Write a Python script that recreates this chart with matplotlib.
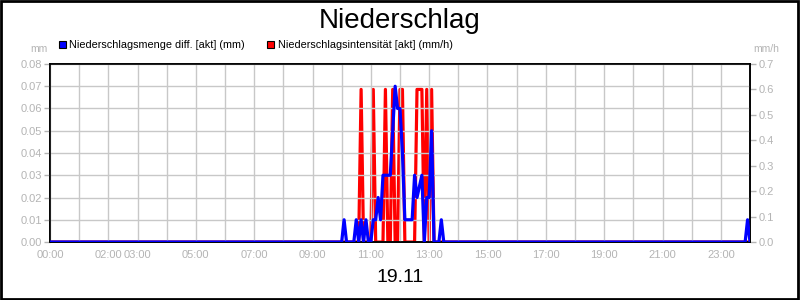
import numpy as np
import matplotlib
matplotlib.use("Agg")
import matplotlib.pyplot as plt
from matplotlib.patches import Rectangle

plt.rcParams['font.family'] = ['Liberation Sans', 'DejaVu Sans']

# 5-minute samples over the day, only non-zero values listed
blue_times = ["10:05", "10:30", "10:40", "10:50", "11:05", "11:10", "11:15", "11:20",
              "11:25", "11:30", "11:35", "11:40", "11:45", "11:50", "11:55", "12:00",
              "12:05", "12:10", "12:15", "12:20", "12:25", "12:30", "12:35", "12:40",
              "12:45", "12:55", "13:00", "13:05", "13:25", "23:55"]
blue_vals = [0.01, 0.01, 0.01, 0.01, 0.01, 0.01, 0.02, 0.01,
             0.03, 0.03, 0.03, 0.03, 0.05, 0.07, 0.06, 0.06,
             0.04, 0.01, 0.01, 0.01, 0.01, 0.03, 0.02, 0.025,
             0.03, 0.02, 0.02, 0.05, 0.01, 0.01]

red_times = ["10:40", "11:05", "11:30", "11:45", "12:00", "12:05",
             "12:35", "12:40", "12:45", "12:55", "13:05"]
red_vals = [0.6, 0.6, 0.6, 0.6, 0.6, 0.6, 0.6, 0.6, 0.6, 0.6, 0.6]

tick_hours = [0, 2, 3, 5, 7, 9, 11, 13, 15, 17, 19, 21, 23]
tick_labels = ["%02d:00" % h for h in tick_hours]


def to_index(t):
    h, m = t.split(":")
    return (int(h) * 60 + int(m)) // 5


hours = np.arange(289) / 12.0
blue = np.zeros(289)
red = np.zeros(289)
for t, v in zip(blue_times, blue_vals):
    blue[to_index(t)] = v
for t, v in zip(red_times, red_vals):
    red[to_index(t)] = v

gray = '#b4b4b4'
grid = '#c8c8c8'

fig = plt.figure(figsize=(8, 3), dpi=100)
fig.patches.append(Rectangle((0.001, 0.002), 0.997, 0.995, transform=fig.transFigure,
                             fill=False, edgecolor='black', linewidth=2))

ax = fig.add_axes([0.0625, 0.1933, 0.875, 0.5934])
ax2 = ax.twinx()

ax2.plot(hours, red, color='#ff0000', linewidth=2.3, zorder=2)
ax.plot(hours, blue, color='#0000ff', linewidth=2.3, zorder=3)
ax.set_zorder(ax2.get_zorder() + 1)
ax.patch.set_visible(False)

ax.set_xlim(0, 24)
ax.set_ylim(0, 0.08)
ax2.set_ylim(0, 0.7)
ax.set_yticks(np.arange(0, 0.081, 0.01))
ax.set_yticklabels(["%.2f" % v for v in np.arange(0, 0.081, 0.01)])
ax2.set_yticks(np.arange(0, 0.71, 0.1))
ax2.set_yticklabels(["%.1f" % v for v in np.arange(0, 0.71, 0.1)])

ax.set_xticks(range(25), minor=False)
ax.set_xticklabels([tick_labels[tick_hours.index(h)] if h in tick_hours else "" for h in range(25)])
ax.grid(True, color=grid, linewidth=1)
ax.set_axisbelow(True)

ax.tick_params(axis='x', length=0, labelsize=8, colors=gray, pad=6)
ax.tick_params(axis='y', length=4, width=1, labelsize=8, colors=gray, pad=2)
ax2.tick_params(axis='y', length=4, width=1, labelsize=8, colors=gray, pad=2)
for a in (ax, ax2):
    for s in a.spines.values():
        s.set_color('black')
        s.set_linewidth(1.2)

fig.text(0.5, 0.93, "Niederschlag", ha='center', va='center', fontsize=20)
fig.text(0.5, 0.075, "19.11", ha='center', va='center', fontsize=14)
fig.text(0.049, 0.837, "mm", ha='center', va='center', fontsize=7.5, color=gray)
fig.text(0.958, 0.837, "mm/h", ha='center', va='center', fontsize=7.5, color=gray)

# legend
fig.patches.append(Rectangle((59 / 800, 1 - 48 / 300), 7 / 800, 7 / 300, transform=fig.transFigure,
                             facecolor='#0000ff', edgecolor='black', linewidth=0.8))
fig.text(69 / 800, 1 - 44.5 / 300, "Niederschlagsmenge diff. [akt] (mm)", ha='left', va='center', fontsize=7.8)
fig.patches.append(Rectangle((267 / 800, 1 - 48 / 300), 7 / 800, 7 / 300, transform=fig.transFigure,
                             facecolor='#ff0000', edgecolor='black', linewidth=0.8))
fig.text(278 / 800, 1 - 44.5 / 300, "Niederschlagsintensität [akt] (mm/h)", ha='left', va='center', fontsize=7.8)

fig.savefig("out.png", dpi=100)
